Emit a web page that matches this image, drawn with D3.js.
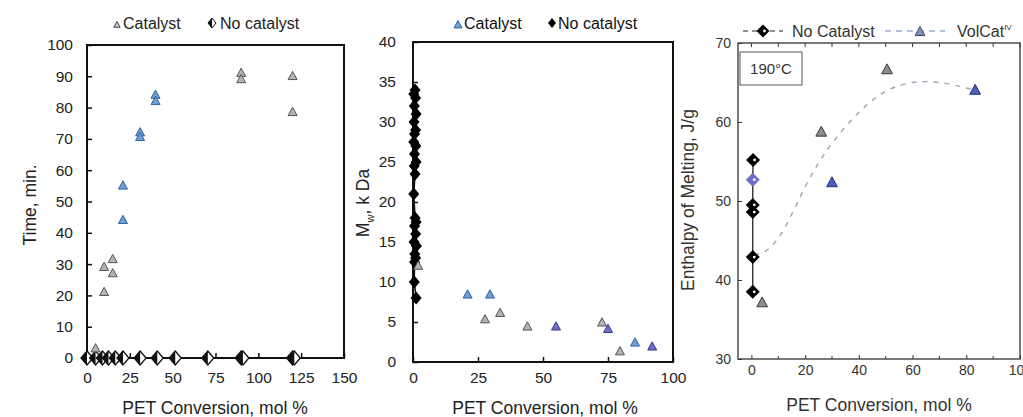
<!DOCTYPE html>
<html><head><meta charset="utf-8">
<script src="https://cdn.jsdelivr.net/npm/d3@7"></script>
<style>body{margin:0;background:#fff}svg{display:block;font-family:"Liberation Sans",Arial,sans-serif}</style>
</head><body><svg id="c" width="1023" height="417"></svg>
<script>
// ---------- DATA ----------
// Panel 1: Time vs PET conversion
const p1XTicks = [0, 25, 50, 75, 100, 125, 150];
const p1YTicks = [0, 10, 20, 30, 40, 50, 60, 70, 80, 90, 100];
const p1CatX = [5, 10, 10, 15, 15, 21, 21, 31, 31, 40, 40, 90, 90, 120, 120];
const p1CatY = [3, 21, 29, 31.5, 27, 55, 44, 72, 70.5, 84, 82, 91, 89, 90, 78.5];
const p1CatTone = ["g", "g", "g", "g", "g", "b", "b", "b", "b", "b", "b", "g", "g", "g", "g"];
const p1NoX = [0, 5, 9, 12.5, 16.5, 21, 31, 41, 51.5, 70.5, 90, 91, 120, 121];
const p1NoY = [0, 0, 0, 0, 0, 0, 0, 0, 0, 0, 0, 0, 0, 0];

// Panel 2: Mw vs PET conversion
const p2XTicks = [0, 25, 50, 75, 100];
const p2YTicks = [0, 5, 10, 15, 20, 25, 30, 35, 40];
const p2CatX = [2, 21, 29.6, 27.7, 33.5, 44, 55, 72.7, 75, 79.6, 85.4, 92];
const p2CatY = [12, 8.4, 8.4, 5.3, 6.1, 4.4, 4.4, 4.9, 4.1, 1.3, 2.4, 1.9];
const p2CatTone = ["g", "b", "b", "g", "g", "g", "p", "g", "p", "g", "b", "p"];
const p2NoX = [0.8, 0.3, 1.0, 0.5, 1.2, 0.4, 1.0, 0.6, 0.3, 1.1, 0.6, 1.2, 0.5, 0.8, 0.3, 0.8, 1.2, 0.6, 1.0, 0.4, 1.3, 0.7, 1.0, 0.6, 0.5, 1.2];
const p2NoY = [34, 33.5, 33, 32, 31, 30, 29, 28.5, 27.5, 27, 26, 25, 24.5, 23.5, 21, 18, 17.5, 17, 16, 15, 14.5, 13.5, 13, 12.5, 10, 8];

// Panel 3: Enthalpy of melting vs PET conversion
const p3XTicks = [0, 20, 40, 60, 80, 100];
const p3XMinor = [10, 30, 50, 70, 90];
const p3YTicks = [30, 40, 50, 60, 70];
const p3NoX = [0.6, 0.5, 0.5, 0.5, 0.5, 0.5];
const p3NoY = [55.2, 52.7, 49.5, 48.6, 42.9, 38.5];
const p3NoTone = ["k", "p", "k", "k", "k", "k"];
const p3CatX = [4, 26, 30, 50.5, 83.3];
const p3CatY = [37.1, 58.7, 52.3, 66.6, 64];
const p3CatTone = ["g", "g", "b", "g", "b"];
const p3CurveX = [1, 5, 10, 15, 20, 25, 30, 40, 50, 60, 70, 80, 84];
const p3CurveY = [43.2, 43.6, 45.3, 48.3, 51.8, 54.8, 57.3, 61.2, 63.9, 65, 65, 64.3, 64];

// ---------- DRAWING ----------
const svg = d3.select("#c");
const tones = {
  g: {fill: "#b4b4b4", stroke: "#555"},
  b: {fill: "#6e9fd6", stroke: "#33629e"},
  p: {fill: "#6f6fc6", stroke: "#3a3a8c"},
  k: {fill: "#000", stroke: "#000"}
};
const triPath = (s) => `M0,${-s}L${s*0.9},${s*0.65}L${-s*0.9},${s*0.65}Z`;
const diaPath = (w, h) => `M0,${-h}L${w},0L0,${h}L${-w},0Z`;
const halfDia = (w, h) => `M0,${-h}L${-w},0L0,${h}Z`;

function frame(g, x, y, xt, yt, o) {
  const ax = d3.axisBottom(x).tickValues(xt).tickSize(-o.tick).tickPadding(o.xpad).tickFormat(d3.format("d"));
  const ay = d3.axisLeft(y).tickValues(yt).tickSize(-o.tick).tickPadding(o.ypad).tickFormat(d3.format("d"));
  const gx = g.append("g").attr("transform", `translate(0,${y.range()[0]})`).call(ax);
  const gy = g.append("g").attr("transform", `translate(${x.range()[0]},0)`).call(ay);
  [gx, gy].forEach(a => {
    a.select(".domain").remove();
    a.selectAll("line").attr("stroke", o.color).attr("stroke-width", o.sw);
    a.selectAll("text").attr("fill", o.text).style("font-size", o.fs + "px").style("font-family", o.font);
  });
  g.append("rect").attr("x", x.range()[0]).attr("y", y.range()[1])
    .attr("width", x.range()[1] - x.range()[0]).attr("height", y.range()[0] - y.range()[1])
    .attr("fill", "none").attr("stroke", o.color).attr("stroke-width", o.bw);
}

// ----- Panel 1 -----
{
  const g = svg.append("g");
  const x = d3.scaleLinear().domain([0, 150]).range([87, 344]);
  const y = d3.scaleLinear().domain([0, 100]).range([358, 45]);
  frame(g, x, y, p1XTicks, p1YTicks, {tick: 5, xpad: 14, ypad: 14, color: "#111", sw: 1.5, bw: 2, text: "#222", fs: 15.5, font: "Liberation Sans"});
  g.append("path").datum(p1NoX.map((d, i) => [d, p1NoY[i]]))
    .attr("d", d3.line().x(d => x(d[0])).y(d => y(d[1])))
    .attr("fill", "none").attr("stroke", "#111").attr("stroke-width", 1.5);
  const nd = g.selectAll(".nd").data(p1NoX).enter().append("g")
    .attr("transform", (d, i) => `translate(${x(d)},${y(p1NoY[i])})`);
  nd.append("path").attr("d", diaPath(6, 7)).attr("fill", "#fff").attr("stroke", "#111").attr("stroke-width", 1.3);
  nd.append("path").attr("d", halfDia(6, 7)).attr("fill", "#111");
  g.selectAll(".ct").data(p1CatX).enter().append("path")
    .attr("transform", (d, i) => `translate(${x(d)},${y(p1CatY[i])})`)
    .attr("d", triPath(5))
    .attr("fill", (d, i) => tones[p1CatTone[i]].fill)
    .attr("stroke", (d, i) => tones[p1CatTone[i]].stroke).attr("stroke-width", 1);
  g.append("path").attr("d", triPath(3.5)).attr("transform", "translate(117,25)").attr("fill", "#ccc").attr("stroke", "#444");
  g.append("text").attr("x", 123).attr("y", 29).text("Catalyst").style("font-size", "16px").attr("fill", "#222");
  const lg = g.append("g").attr("transform", "translate(212,23)");
  lg.append("path").attr("d", diaPath(4, 5)).attr("fill", "#fff").attr("stroke", "#111");
  lg.append("path").attr("d", halfDia(4, 5)).attr("fill", "#111");
  g.append("text").attr("x", 220).attr("y", 29).text("No catalyst").style("font-size", "16px").attr("fill", "#222");
  g.append("text").attr("x", 215).attr("y", 414).attr("text-anchor", "middle").style("font-size", "17.5px").attr("fill", "#222").text("PET Conversion, mol %");
  g.append("text").attr("transform", "translate(36,205) rotate(-90)").attr("text-anchor", "middle").style("font-size", "17.5px").attr("fill", "#222").text("Time, min.");
}

// ----- Panel 2 -----
{
  const g = svg.append("g");
  const x = d3.scaleLinear().domain([0, 100]).range([413, 673]);
  const y = d3.scaleLinear().domain([0, 40]).range([362, 42]);
  frame(g, x, y, p2XTicks, p2YTicks, {tick: 5, xpad: 10, ypad: 17, color: "#111", sw: 1.5, bw: 2, text: "#222", fs: 15.5, font: "Liberation Sans"});
  g.append("path").datum(p2NoX.map((d, i) => [d, p2NoY[i]]))
    .attr("d", d3.line().x(d => x(d[0])).y(d => y(d[1])))
    .attr("fill", "none").attr("stroke", "#111").attr("stroke-width", 1.5);
  g.selectAll(".nd").data(p2NoX).enter().append("path")
    .attr("transform", (d, i) => `translate(${x(d)},${y(p2NoY[i])})`)
    .attr("d", diaPath(5.5, 6.5)).attr("fill", "#000");
  g.selectAll(".ct").data(p2CatX).enter().append("path")
    .attr("transform", (d, i) => `translate(${x(d)},${y(p2CatY[i])})`)
    .attr("d", triPath(5))
    .attr("fill", (d, i) => tones[p2CatTone[i]].fill)
    .attr("stroke", (d, i) => tones[p2CatTone[i]].stroke).attr("stroke-width", 1);
  g.append("path").attr("d", triPath(4.5)).attr("transform", "translate(458,25)").attr("fill", "#6e9fd6").attr("stroke", "#33629e");
  g.append("text").attr("x", 464).attr("y", 29).text("Catalyst").style("font-size", "16px").attr("fill", "#111");
  g.append("path").attr("d", diaPath(4, 5)).attr("transform", "translate(552,23)").attr("fill", "#000");
  g.append("text").attr("x", 558).attr("y", 29).text("No catalyst").style("font-size", "16px").attr("fill", "#111");
  g.append("text").attr("x", 545).attr("y", 414).attr("text-anchor", "middle").style("font-size", "17.5px").attr("fill", "#222").text("PET Conversion, mol %");
  const t = g.append("text").attr("transform", "translate(369,203) rotate(-90)").attr("text-anchor", "middle").style("font-size", "17.5px").attr("fill", "#222");
  t.append("tspan").text("M");
  t.append("tspan").attr("dy", 5).style("font-size", "11px").text("w");
  t.append("tspan").attr("dy", -5).text(", k Da");
}

// ----- Panel 3 -----
{
  const g = svg.append("g");
  const font = "Liberation Sans";
  const x = d3.scaleLinear().domain([-5, 100]).range([738, 1020]);
  const y = d3.scaleLinear().domain([30, 70]).range([359, 43]);
  frame(g, x, y, p3XTicks, p3YTicks, {tick: 4, xpad: 6, ypad: 7, color: "#333", sw: 1, bw: 1.3, text: "#333", fs: 14, font: font});
  g.selectAll(".mt").data(p3XTicks.concat(p3XMinor)).enter().append("line")
    .attr("x1", d => x(d)).attr("x2", d => x(d)).attr("y1", y.range()[1]).attr("y2", y.range()[1] + 4)
    .attr("stroke", "#333");
  g.selectAll(".mb").data(p3XMinor).enter().append("line")
    .attr("x1", d => x(d)).attr("x2", d => x(d)).attr("y1", y.range()[0]).attr("y2", y.range()[0] - 3)
    .attr("stroke", "#333");
  g.append("path").datum(p3CurveX.map((d, i) => [d, p3CurveY[i]]))
    .attr("d", d3.line().curve(d3.curveCatmullRom).x(d => x(d[0])).y(d => y(d[1])))
    .attr("fill", "none").attr("stroke", "#9aa6b8").attr("stroke-width", 1.4).attr("stroke-dasharray", "5,6");
  g.append("path").datum(p3NoX.map((d, i) => [d, p3NoY[i]]))
    .attr("d", d3.line().x(d => x(d[0])).y(d => y(d[1])))
    .attr("fill", "none").attr("stroke", "#111").attr("stroke-width", 1.2);
  const nd = g.selectAll(".nd").data(p3NoX).enter().append("g")
    .attr("transform", (d, i) => `translate(${x(d)},${y(p3NoY[i])})`);
  nd.append("path").attr("d", diaPath(7, 7)).attr("fill", (d, i) => tones[p3NoTone[i]].fill);
  nd.append("circle").attr("r", 1.4).attr("cx", 1.5).attr("fill", "#fff");
  g.selectAll(".ct").data(p3CatX).enter().append("path")
    .attr("transform", (d, i) => `translate(${x(d)},${y(p3CatY[i])})`)
    .attr("d", triPath(6))
    .attr("fill", (d, i) => p3CatTone[i] === "b" ? "#4a5fb5" : "#8c8c8c")
    .attr("stroke", (d, i) => p3CatTone[i] === "b" ? "#24307a" : "#3a3a3a").attr("stroke-width", 1);
  g.append("rect").attr("x", 740).attr("y", 52).attr("width", 62).attr("height", 33).attr("fill", "#fff").attr("stroke", "#555").attr("stroke-width", 1);
  g.append("text").attr("x", 771).attr("y", 74).attr("text-anchor", "middle").style("font-size", "15px").attr("fill", "#333").text("190°C");
  g.append("line").attr("x1", 743).attr("x2", 783).attr("y1", 31).attr("y2", 31).attr("stroke", "#222").attr("stroke-width", 1.2).attr("stroke-dasharray", "5,4");
  const ld = g.append("g").attr("transform", "translate(763,31)");
  ld.append("path").attr("d", diaPath(6.5, 6.5)).attr("fill", "#000");
  ld.append("circle").attr("r", 1.4).attr("cx", 1.5).attr("fill", "#fff");
  g.append("text").attr("x", 792).attr("y", 37).style("font-size", "16px").attr("fill", "#333").text("No Catalyst");
  g.append("line").attr("x1", 885).attr("x2", 945).attr("y1", 31).attr("y2", 31).attr("stroke", "#6e86b8").attr("stroke-width", 1.2).attr("stroke-dasharray", "6,5");
  g.append("path").attr("d", triPath(5.5)).attr("transform", "translate(920,32)").attr("fill", "#7f8fb8").attr("stroke", "#3a4a7a");
  const vt = g.append("text").attr("x", 957).attr("y", 37).style("font-size", "16px").attr("fill", "#333");
  vt.append("tspan").text("VolCat");
  vt.append("tspan").attr("dy", -7).style("font-size", "8px").text("IV");
  g.append("text").attr("x", 879).attr("y", 411).attr("text-anchor", "middle").style("font-size", "17.5px").attr("fill", "#333").text("PET Conversion, mol %");
  g.append("text").attr("transform", "translate(694,200) rotate(-90)").attr("text-anchor", "middle").style("font-size", "17.5px").attr("fill", "#333").text("Enthalpy of Melting, J/g");
}
</script></body></html>
